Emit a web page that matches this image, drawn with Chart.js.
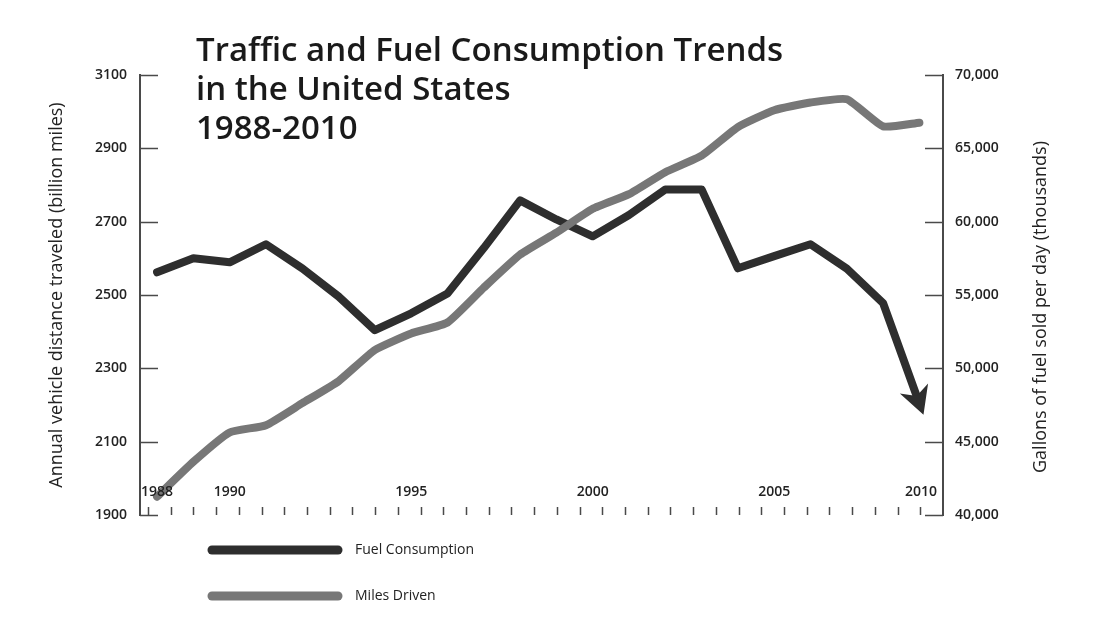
<!DOCTYPE html>
<html>
<head>
<meta charset="utf-8">
<script src="https://cdn.jsdelivr.net/npm/chart.js@4.4.1/dist/chart.umd.min.js"></script>
<style>
  html, body { margin: 0; padding: 0; background: #fff; }
  #wrap { width: 1093px; height: 619px; position: relative; }
</style>
</head>
<body>
<div id="wrap"><canvas id="chart" width="1093" height="619"></canvas></div>
<script>
// values
const years = [1988, 1989, 1990, 1991, 1992, 1993, 1994, 1995, 1996, 1997, 1998,
  1999, 2000, 2001, 2002, 2003, 2004, 2005, 2006, 2007, 2008, 2009];
const milesDriven = [1950, 2045, 2125, 2145, 2205, 2265, 2350, 2395, 2425, 2520, 2610,
  2670, 2735, 2775, 2835, 2880, 2958, 3004, 3025, 3034, 2960, 2970];
const fuelConsumption = [56550, 57500, 57230, 58460, 56820, 54900, 52600, 53750, 55100, 58200, 61450,
  60150, 59000, 60450, 62200, 62200, 56820, 57650, 58460, 56800, 54450, 47600];
const milesTicks = [1900, 2100, 2300, 2500, 2700, 2900, 3100];
const fuelTicks = [40000, 45000, 50000, 55000, 60000, 65000, 70000];
const yearLabels = [1988, 1990, 1995, 2000, 2005, 2010];

const titleLines = ['Traffic and Fuel Consumption Trends', 'in the United States', '1988-2010'];
const leftTitle = 'Annual vehicle distance traveled (billion miles)';
const rightTitle = 'Gallons of fuel sold per day (thousands)';

const FUEL = '#2e2e2e';
const MILES = '#777777';
const AXIS = '#4a4a4a';
const TEXT = '#222';
const labelFont = '600 14px "Open Sans"';

const toPoints = (series) => series.map((v, i) => ({ x: years[i], y: v }));

const decorations = {
  id: 'decorations',
  afterDatasetsDraw(chart) {
    const { ctx } = chart;
    // arrow head at the end of the fuel line
    const pts = chart.getDatasetMeta(0).data;
    const a = pts[pts.length - 2];
    const b = pts[pts.length - 1];
    const ang = Math.atan2(b.y - a.y, b.x - a.x);
    ctx.save();
    ctx.translate(b.x + Math.cos(ang) * 12, b.y + Math.sin(ang) * 12);
    ctx.rotate(ang);
    ctx.beginPath();
    ctx.moveTo(0, 0);
    ctx.lineTo(-28, -15);
    ctx.lineTo(-20, 0);
    ctx.lineTo(-28, 15);
    ctx.closePath();
    ctx.fillStyle = FUEL;
    ctx.fill();
    ctx.restore();
  },
  afterDraw(chart) {
    const { ctx, chartArea: area } = chart;
    const sx = chart.scales.x;
    const yl = chart.scales.y;
    const yr = chart.scales.y1;
    ctx.save();

    // inward tick marks
    ctx.strokeStyle = AXIS;
    ctx.lineWidth = 1.5;
    ctx.beginPath();
    yl.ticks.forEach((t) => {
      const y = Math.round(yl.getPixelForValue(t.value)) + 0.5;
      ctx.moveTo(area.left, y);
      ctx.lineTo(area.left + 18, y);
    });
    yr.ticks.forEach((t) => {
      const y = Math.round(yr.getPixelForValue(t.value)) + 0.5;
      ctx.moveTo(area.right - 18, y);
      ctx.lineTo(area.right, y);
    });
    const step = (area.right - area.left - 8) / 35;
    for (let x = area.left + 8; x < area.right - 2; x += step) {
      ctx.moveTo(Math.round(x) + 0.5, area.bottom - 8);
      ctx.lineTo(Math.round(x) + 0.5, area.bottom);
    }
    ctx.stroke();

    // year labels sit inside the plot, just above the axis
    ctx.fillStyle = TEXT;
    ctx.font = labelFont;
    ctx.textBaseline = 'middle';
    ctx.textAlign = 'center';
    yearLabels.forEach((yr0) => {
      const x = Math.min(sx.getPixelForValue(yr0), area.right - 22);
      ctx.fillText(String(yr0), x, area.bottom - 23);
    });

    // axis titles
    ctx.font = '18px "Open Sans"';
    ctx.save();
    ctx.translate(57, (area.top + area.bottom) / 2);
    ctx.rotate(-Math.PI / 2);
    ctx.fillText(leftTitle, 0, 0);
    ctx.restore();
    ctx.save();
    ctx.translate(1041, (area.top + area.bottom) / 2 + 12);
    ctx.rotate(-Math.PI / 2);
    ctx.fillText(rightTitle, 0, 0);
    ctx.restore();

    // title
    ctx.font = '600 33px "Open Sans"';
    ctx.textAlign = 'left';
    ctx.textBaseline = 'alphabetic';
    ctx.fillStyle = '#1a1a1a';
    titleLines.forEach((line, i) => ctx.fillText(line, 196, 61 + i * 39));

    // legend
    const items = [
      { label: chart.data.datasets[0].label, color: FUEL, y: 550 },
      { label: chart.data.datasets[1].label, color: MILES, y: 596 },
    ];
    ctx.lineCap = 'round';
    items.forEach((it) => {
      ctx.beginPath();
      ctx.strokeStyle = it.color;
      ctx.lineWidth = 9;
      ctx.moveTo(212, it.y);
      ctx.lineTo(338, it.y);
      ctx.stroke();
      ctx.fillStyle = TEXT;
      ctx.font = '14px "Open Sans"';
      ctx.textBaseline = 'middle';
      ctx.fillText(it.label, 355, it.y);
    });
    ctx.restore();
  },
};

new Chart(document.getElementById('chart'), {
  type: 'line',
  data: {
    datasets: [
      {
        label: 'Fuel Consumption',
        data: toPoints(fuelConsumption),
        yAxisID: 'y1',
        borderColor: FUEL,
        borderWidth: 8,
        borderJoinStyle: 'round',
        borderCapStyle: 'round',
        pointRadius: 0,
        tension: 0,
        order: 2,
      },
      {
        label: 'Miles Driven',
        data: toPoints(milesDriven),
        yAxisID: 'y',
        borderColor: MILES,
        borderWidth: 8,
        borderJoinStyle: 'round',
        borderCapStyle: 'round',
        pointRadius: 0,
        tension: 0.15,
        order: 1,
      },
    ],
  },
  options: {
    responsive: false,
    animation: false,
    devicePixelRatio: 1,
    layout: { padding: { top: 75, bottom: 104, left: 0, right: 0 } },
    plugins: { legend: { display: false }, tooltip: { enabled: false } },
    scales: {
      x: {
        type: 'linear',
        display: false,
        min: 1987.53,
        max: 2009.65,
      },
      y: {
        position: 'left',
        min: 1900,
        max: 3100,
        afterBuildTicks: (scale) => { scale.ticks = milesTicks.map((value) => ({ value })); },
        afterFit: (scale) => { scale.width = 140; },
        ticks: {
          color: TEXT,
          font: { family: 'Open Sans', size: 14, weight: '600' },
          padding: 13,
          callback: (value) => String(value),
        },
        grid: { drawOnChartArea: false, drawTicks: false },
        border: { color: AXIS, width: 2 },
      },
      y1: {
        position: 'right',
        min: 40000,
        max: 70000,
        afterBuildTicks: (scale) => { scale.ticks = fuelTicks.map((value) => ({ value })); },
        afterFit: (scale) => { scale.width = 150; },
        ticks: {
          color: TEXT,
          font: { family: 'Open Sans', size: 14, weight: '600' },
          padding: 12,
          callback: (value) => Number(value).toLocaleString('en-US'),
        },
        grid: { drawOnChartArea: false, drawTicks: false },
        border: { color: AXIS, width: 2 },
      },
    },
  },
  plugins: [decorations],
});
</script>
</body>
</html>
